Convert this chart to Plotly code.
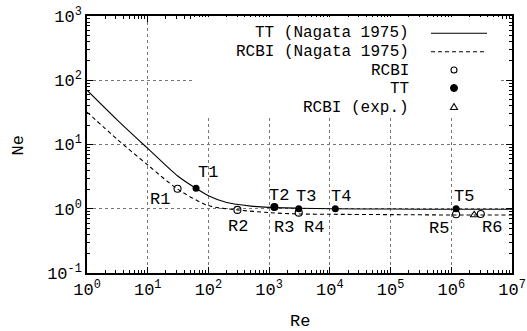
import math
import plotly.graph_objects as go

# ---------------- data ----------------
re_tt_curve = [1, 3.16, 10, 31.6, 62, 100, 200, 500, 1000, 3000, 1e4, 1e5, 1e6, 1e7]
ne_tt_curve = [70, 24, 8.7, 3.2, 2.08, 1.6, 1.25, 1.1, 1.05, 1.02, 1.0, 0.99, 0.98, 0.98]

re_rcbi_curve = [1, 3.16, 10, 31.6, 100, 300, 1000, 3000, 1e4, 1e5, 1e6, 1e7]
ne_rcbi_curve = [32, 12, 4.8, 2.0, 1.12, 0.96, 0.87, 0.83, 0.82, 0.81, 0.80, 0.80]

tt_labels = ["T1", "T2", "T3", "T4", "T5"]
tt_re = [62.5, 1220, 3070, 12300, 1.2e6]
tt_ne = [2.08, 1.065, 1.0, 1.0, 1.0]

rcbi_labels = ["R1", "R2", "R3", "R4", "R5", "R6"]
rcbi_re = [31, 300, 1220, 3070, 1.2e6, 3.06e6]
rcbi_ne = [2.05, 0.96, 1.065, 0.87, 0.82, 0.83]

exp_re = [2.39e6]
exp_ne = [0.80]

x_exponents = [0, 1, 2, 3, 4, 5, 6, 7]
y_exponents = [-1, 0, 1, 2, 3]

legend_texts = ["TT (Nagata 1975)", "RCBI (Nagata 1975)", "RCBI", "TT", "RCBI (exp.)"]

# ---------------- style ----------------
FONT = "Courier New, Liberation Mono, monospace"
FS = 17
FS_LEG = 16
W, H = 527, 331
ML, MR, MT, MB = 87, 15, 16, 58
PW, PH = W - ML - MR, H - MT - MB

# label pixel offsets (dx right, dy up) relative to the marker
tt_off = [(12, 16), (5, 11), (7, 12), (6, 12), (8, 12)]
rcbi_off = [(-18, -11), (1, -17), (10, -21), (15, -15), (-17, -14), (11, -14)]


def fx(px):
    return (px - ML) / PW


def fy(py):
    return (MT + PH - py) / PH


fig = go.Figure()

fig.add_trace(go.Scatter(x=re_tt_curve, y=ne_tt_curve, mode="lines",
                         line=dict(color="black", width=1.1, shape="spline", smoothing=0.8),
                         showlegend=False))
fig.add_trace(go.Scatter(x=re_rcbi_curve, y=ne_rcbi_curve, mode="lines",
                         line=dict(color="black", width=1.1, dash="4px,3px", shape="spline", smoothing=0.8),
                         showlegend=False))
fig.add_trace(go.Scatter(x=rcbi_re, y=rcbi_ne, mode="markers",
                         marker=dict(symbol="circle-open", size=7, color="black", line=dict(width=1.1)),
                         showlegend=False))
fig.add_trace(go.Scatter(x=exp_re, y=exp_ne, mode="markers",
                         marker=dict(symbol="triangle-up-open", size=7, color="black", line=dict(width=1.1)),
                         showlegend=False))
fig.add_trace(go.Scatter(x=tt_re, y=tt_ne, mode="markers",
                         marker=dict(symbol="circle", size=7, color="black"),
                         showlegend=False))

annotations = []
for lab, xv, yv, (dx, dy) in zip(tt_labels, tt_re, tt_ne, tt_off):
    annotations.append(dict(x=math.log10(xv), y=math.log10(yv), xref="x", yref="y", text=lab,
                            showarrow=False, xshift=dx, yshift=dy,
                            font=dict(family=FONT, size=FS, color="black")))
for lab, xv, yv, (dx, dy) in zip(rcbi_labels, rcbi_re, rcbi_ne, rcbi_off):
    annotations.append(dict(x=math.log10(xv), y=math.log10(yv), xref="x", yref="y", text=lab,
                            showarrow=False, xshift=dx, yshift=dy,
                            font=dict(family=FONT, size=FS, color="black")))

# custom legend (text right-aligned, key on the right)
leg_rows = [33, 52, 71, 88.5, 108]
for t, py in zip(legend_texts, leg_rows):
    annotations.append(dict(x=fx(410), y=fy(py), xref="paper", yref="paper", text=t,
                            xanchor="right", yanchor="middle", showarrow=False, borderpad=0,
                            font=dict(family=FONT, size=FS_LEG, color="black")))

# axis titles
annotations.append(dict(x=0.5, y=fy(321), xref="paper", yref="paper", text="Re", showarrow=False,
                        xanchor="center", yanchor="middle", font=dict(family=FONT, size=FS, color="black")))
annotations.append(dict(x=fx(17.5), y=fy(146), xref="paper", yref="paper", text="Ne", showarrow=False,
                        textangle=-90, xanchor="center", yanchor="middle",
                        font=dict(family=FONT, size=FS, color="black")))

key_x = fx(454)
shapes = [
    # white legend background hiding the grid
    dict(type="rect", xref="paper", yref="paper", x0=fx(193), x1=fx(500), y0=fy(115), y1=fy(17),
         fillcolor="white", line=dict(width=0), layer="above"),
    # line keys
    dict(type="line", xref="paper", yref="paper", x0=fx(431), x1=fx(487), y0=fy(33.3), y1=fy(33.3),
         line=dict(color="black", width=1.1)),
    dict(type="line", xref="paper", yref="paper", x0=fx(431), x1=fx(487), y0=fy(51.7), y1=fy(51.7),
         line=dict(color="black", width=1.1, dash="4px,3px")),
    # marker keys
    dict(type="circle", xref="paper", yref="paper", xsizemode="pixel", ysizemode="pixel",
         xanchor=key_x, yanchor=fy(70), x0=-3, x1=3, y0=-3, y1=3,
         line=dict(color="black", width=1.1), fillcolor="white"),
    dict(type="circle", xref="paper", yref="paper", xsizemode="pixel", ysizemode="pixel",
         xanchor=key_x, yanchor=fy(88), x0=-3.5, x1=3.5, y0=-3.5, y1=3.5,
         line=dict(color="black", width=1), fillcolor="black"),
    dict(type="path", xref="paper", yref="paper", xsizemode="pixel", ysizemode="pixel",
         xanchor=key_x, yanchor=fy(107), path="M -3.5,-2.5 L 3.5,-2.5 L 0,3.5 Z",
         line=dict(color="black", width=1.1), fillcolor="white"),
]

minor_x = [m * 10 ** e for e in range(0, 7) for m in range(2, 10)]
minor_y = [m * 10.0 ** e for e in range(-1, 3) for m in range(2, 10)]

axis_common = dict(
    type="log", showline=True, linecolor="black", linewidth=1.5, mirror="allticks",
    ticks="inside", ticklen=6, tickwidth=1, tickcolor="black",
    showgrid=True, gridcolor="#777777", gridwidth=1, griddash="dot",
    zeroline=False, tickfont=dict(family=FONT, size=FS, color="black"),
)

fig.update_layout(
    width=W, height=H,
    margin=dict(l=ML, r=MR, t=MT, b=MB, autoexpand=False),
    paper_bgcolor="white", plot_bgcolor="white",
    xaxis=dict(range=[0, 7], tickmode="array",
               tickvals=[10 ** e for e in x_exponents],
               ticktext=["10<sup>%d</sup>" % e for e in x_exponents],
               minor=dict(tickvals=minor_x, ticks="inside", ticklen=3, tickcolor="black", showgrid=False),
               **axis_common),
    yaxis=dict(range=[-1, 3], tickmode="array",
               tickvals=[10.0 ** e for e in y_exponents],
               ticktext=["10<sup>%d</sup>" % e for e in y_exponents],
               minor=dict(tickvals=minor_y, ticks="inside", ticklen=3, tickcolor="black", showgrid=False),
               **axis_common),
    annotations=annotations,
    shapes=shapes,
    showlegend=False,
)

fig.write_html("out.html")
